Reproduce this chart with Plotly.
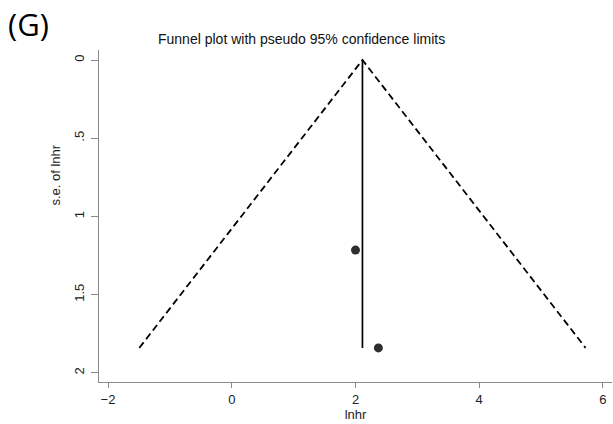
import numpy as np
import plotly.graph_objects as go

# Study estimates: log hazard ratio and its standard error
lnhr = [2.00, 2.37]
se_lnhr = [1.215, 1.84]

# Fixed-effect pooled estimate used as the funnel centre
w = 1 / np.array(se_lnhr) ** 2
pooled = float(np.sum(w * np.array(lnhr)) / np.sum(w))
se_max = max(se_lnhr)
z = 1.96

x_ticks = [-2, 0, 2, 4, 6]
y_ticks = [0, 0.5, 1, 1.5, 2]
y_ticktext = ["0", ".5", "1", "1.5", "2"]

FONT = "Liberation Sans, Arial, sans-serif"
AXIS_GREY = "#8a8a8a"

fig = go.Figure()

# Pseudo 95% confidence limits
fig.add_trace(go.Scatter(
    x=[pooled - z * se_max, pooled, pooled + z * se_max],
    y=[se_max, 0, se_max],
    mode="lines",
    line=dict(color="black", width=1.8, dash="7px,4px"),
    hoverinfo="skip",
))

# Pooled estimate line
fig.add_trace(go.Scatter(
    x=[pooled, pooled],
    y=[0, se_max],
    mode="lines",
    line=dict(color="black", width=1.7),
    hoverinfo="skip",
))

# Individual studies
fig.add_trace(go.Scatter(
    x=lnhr,
    y=se_lnhr,
    mode="markers",
    marker=dict(color="#2e2e2e", size=9),
))

fig.update_layout(
    width=613,
    height=424,
    margin=dict(l=99, r=1, t=50, b=42),
    paper_bgcolor="white",
    plot_bgcolor="white",
    showlegend=False,
    font=dict(family=FONT, color="#222222", size=13),
    xaxis=dict(
        range=[-2.146, 6.146],
        tickvals=x_ticks,
        ticks="outside",
        ticklen=5,
        tickcolor=AXIS_GREY,
        showline=True,
        linecolor=AXIS_GREY,
        linewidth=1.3,
        showgrid=False,
        zeroline=False,
        tickfont=dict(size=13),
        title=dict(text="lnhr", font=dict(size=13), standoff=2),
    ),
    yaxis=dict(
        range=[2.058, -0.064],
        tickvals=y_ticks,
        ticktext=y_ticktext,
        tickangle=-90,
        ticks="outside",
        ticklen=7,
        tickcolor=AXIS_GREY,
        showline=True,
        linecolor=AXIS_GREY,
        linewidth=1.3,
        showgrid=False,
        zeroline=False,
        tickfont=dict(size=13),
        ticklabelstandoff=2,
    ),
    annotations=[
        dict(text="Funnel plot with pseudo 95% confidence limits",
             xref="paper", yref="paper", x=0.3956, y=1.033,
             xanchor="center", yanchor="middle", showarrow=False,
             font=dict(size=14, family=FONT, color="#111111")),
        dict(text="s.e. of lnhr",
             xref="paper", yref="paper", x=-0.085, y=0.623,
             xanchor="center", yanchor="middle", textangle=-90,
             showarrow=False, font=dict(size=13, family=FONT)),
        dict(text="(G)",
             xref="paper", yref="paper", x=-0.182, y=1.078,
             xanchor="left", yanchor="middle", showarrow=False,
             font=dict(size=31, family="Open Sans, sans-serif", color="black")),
    ],
)

fig.write_html("out.html")
